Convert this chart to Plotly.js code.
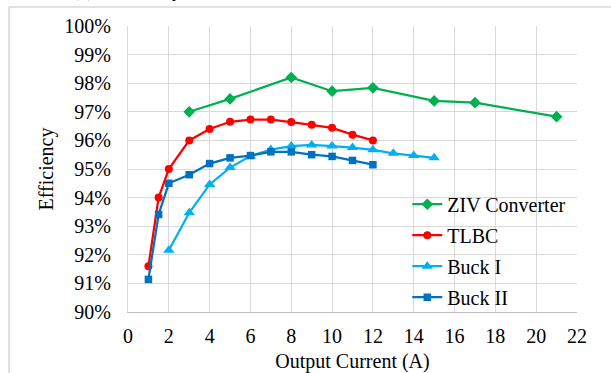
<!DOCTYPE html>
<html>
<head>
<meta charset="utf-8">
<script src="https://cdn.plot.ly/plotly-3.0.1.min.js"></script>
<style>html,body{margin:0;padding:0;background:#fff;overflow:hidden;}#chart{width:611px;height:373px;}</style>
</head>
<body>
<div id="chart"></div>
<script>
// Data
const zivX = [3, 5, 8, 10, 12, 15, 17, 21];
const zivY = [97.0, 97.45, 98.2, 97.72, 97.84, 97.38, 97.32, 96.83];

const tlbcX = [1, 1.5, 2, 3, 4, 5, 6, 7, 8, 9, 10, 11, 12];
const tlbcY = [91.6, 94.0, 95.0, 96.0, 96.4, 96.65, 96.73, 96.73, 96.64, 96.55, 96.44, 96.2, 96.0];

const buck1X = [2, 3, 4, 5, 6, 7, 8, 9, 10, 11, 12, 13, 14, 15];
const buck1Y = [92.16, 93.47, 94.46, 95.05, 95.45, 95.68, 95.8, 95.84, 95.8, 95.75, 95.67, 95.55, 95.47, 95.39];

const buck2X = [1, 1.5, 2, 3, 4, 5, 6, 7, 8, 9, 10, 11, 12];
const buck2Y = [91.14, 93.41, 94.5, 94.8, 95.19, 95.39, 95.47, 95.6, 95.6, 95.5, 95.44, 95.3, 95.15];

const seriesNames = ["ZIV Converter", "TLBC", "Buck I", "Buck II"];
const xTicks = [0, 2, 4, 6, 8, 10, 12, 14, 16, 18, 20, 22];
const yTicks = [90, 91, 92, 93, 94, 95, 96, 97, 98, 99, 100];
const captionText = "(a) Efficiency of the ZIV converter [8] and the buck in [9],";

const FONT = "Liberation Serif";

function tr(x, y, name, color, symbol, size, grp) {
  return {
    x: x, y: y, name: name, type: "scatter", mode: "lines+markers",
    legendgroup: grp,
    line: {color: color, width: 2.25},
    marker: {color: color, symbol: symbol, size: size},
    hoverinfo: "skip"
  };
}

const data = [
  tr(zivX, zivY, seriesNames[0], "#00B050", "diamond", 9, "a"),
  tr(tlbcX, tlbcY, seriesNames[1], "#FF0000", "circle", 8, "b"),
  tr(buck1X, buck1Y, seriesNames[2], "#00B0F0", "triangle-up", 10, "c"),
  tr(buck2X, buck2Y, seriesNames[3], "#0070C0", "square", 7.5, "d")
];

const frameTop = (312 - 6.5) / 286.5;
const frameLeft = (9 - 128) / 449;

const layout = {
  width: 611, height: 373,
  margin: {l: 128, r: 34, t: 25.5, b: 61, pad: 0},
  paper_bgcolor: "#ffffff", plot_bgcolor: "#ffffff",
  font: {family: FONT, size: 20, color: "#000000"},
  showlegend: true,
  legend: {
    x: 0.622, y: 0.445, xanchor: "left", yanchor: "top",
    bgcolor: "rgba(0,0,0,0)", borderwidth: 0,
    font: {family: FONT, size: 20, color: "#000"},
    traceorder: "grouped", tracegroupgap: 2,
    itemwidth: 30
  },
  xaxis: {
    range: [0, 22], tickvals: xTicks, ticktext: xTicks.map(String),
    showgrid: true, gridcolor: "#d9d9d9", gridwidth: 1,
    showline: true, linecolor: "#bfbfbf", linewidth: 1,
    zeroline: false, ticks: "", ticklabelstandoff: 6,
    tickfont: {family: FONT, size: 20, color: "#000"},
    title: {text: "Output Current (A)", font: {family: FONT, size: 20, color: "#000"}, standoff: 9},
    fixedrange: true
  },
  yaxis: {
    range: [90, 100], tickvals: yTicks, ticktext: yTicks.map(v => v + "%"),
    showgrid: true, gridcolor: "#d9d9d9", gridwidth: 1,
    showline: true, linecolor: "#d9d9d9", linewidth: 1, mirror: false,
    zeroline: false, ticks: "", ticklabelstandoff: 12,
    tickfont: {family: FONT, size: 20, color: "#000"},
    title: {text: "Efficiency", font: {family: FONT, size: 20, color: "#000"}, standoff: 5},
    fixedrange: true
  },
  shapes: [
    {type: "line", xref: "paper", yref: "paper", x0: frameLeft, x1: 1.2, y0: frameTop, y1: frameTop,
     line: {color: "#d9d9d9", width: 1.5}, layer: "below"},
    {type: "line", xref: "paper", yref: "paper", x0: frameLeft, x1: frameLeft, y0: frameTop, y1: -0.4,
     line: {color: "#d9d9d9", width: 1.5}, layer: "below"}
  ],
  annotations: [{
    text: captionText, xref: "paper", yref: "paper",
    x: (70 - 128) / 449, y: (312 - 2) / 286.5, xanchor: "left", yanchor: "bottom",
    showarrow: false, font: {family: FONT, size: 20, color: "#000"}
  }]
};

Plotly.newPlot("chart", data, layout, {displayModeBar: false, staticPlot: true});
</script>
</body>
</html>
